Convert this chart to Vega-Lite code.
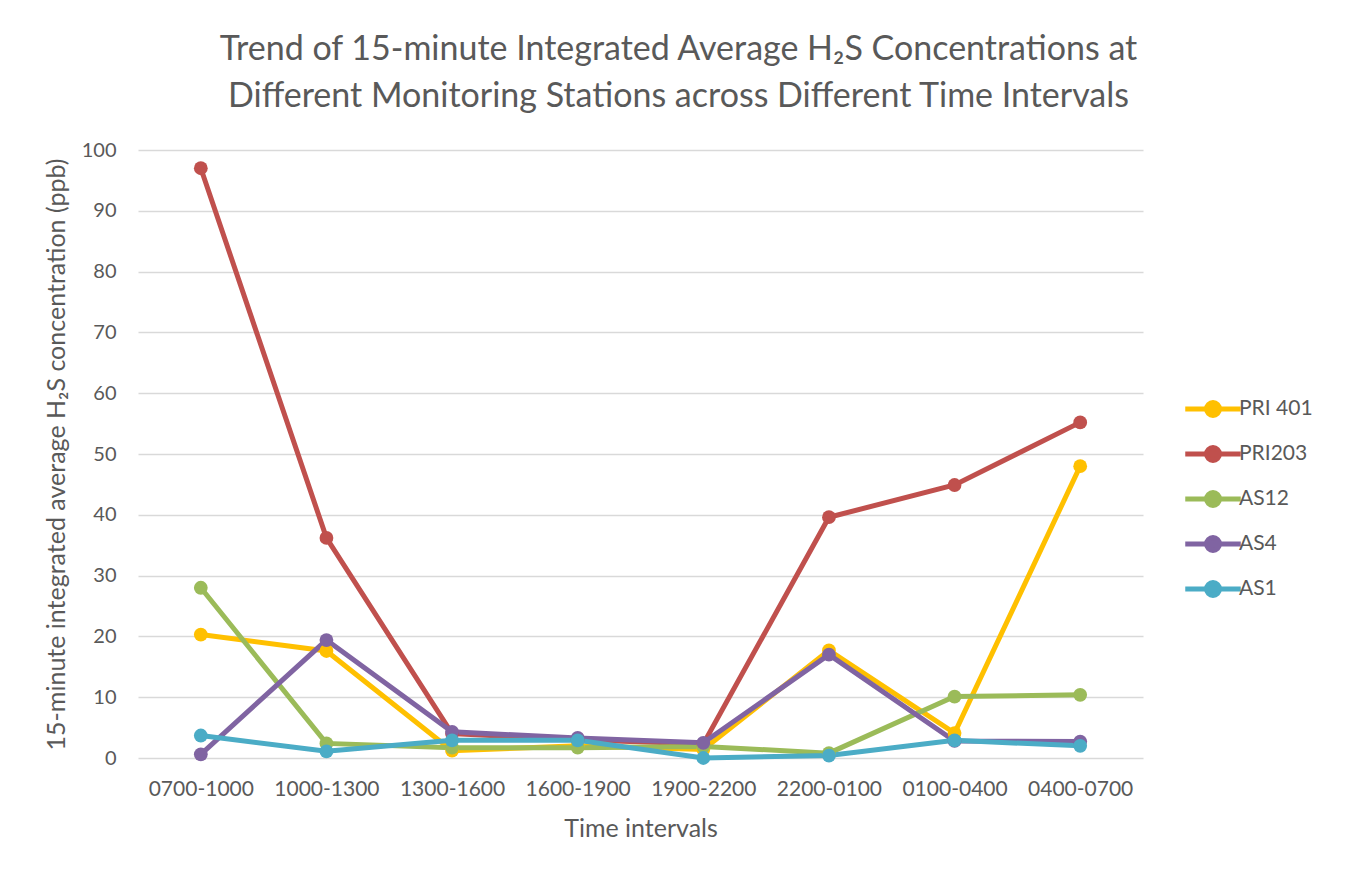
{
  "$schema": "https://vega.github.io/schema/vega-lite/v6.json",
  "width": 1005,
  "height": 608,
  "autosize": {"type": "none"},
  "padding": {"left": 138, "top": 150, "right": 211, "bottom": 114},
  "background": "white",
  "title": {
    "text": ["Trend of 15-minute Integrated Average H₂S Concentrations at", "Different Monitoring Stations across Different Time Intervals"],
    "font": "Lato",
    "fontSize": 34,
    "fontWeight": "normal",
    "color": "#595959",
    "anchor": "middle",
    "frame": "group",
    "dx": 38,
    "baseline": "alphabetic",
    "lineHeight": 47,
    "offset": -1
  },
  "config": {
    "view": {"stroke": null},
    "font": "Lato"
  },
  "data": {
    "values": [
      {"interval": "0700-1000", "station": "PRI 401", "value": 20.3},
      {"interval": "1000-1300", "station": "PRI 401", "value": 17.6},
      {"interval": "1300-1600", "station": "PRI 401", "value": 1.2},
      {"interval": "1600-1900", "station": "PRI 401", "value": 2.0},
      {"interval": "1900-2200", "station": "PRI 401", "value": 1.4},
      {"interval": "2200-0100", "station": "PRI 401", "value": 17.7},
      {"interval": "0100-0400", "station": "PRI 401", "value": 4.1},
      {"interval": "0400-0700", "station": "PRI 401", "value": 48.0},
      {"interval": "0700-1000", "station": "PRI203", "value": 97.0},
      {"interval": "1000-1300", "station": "PRI203", "value": 36.2},
      {"interval": "1300-1600", "station": "PRI203", "value": 4.0},
      {"interval": "1600-1900", "station": "PRI203", "value": 3.0},
      {"interval": "1900-2200", "station": "PRI203", "value": 2.3},
      {"interval": "2200-0100", "station": "PRI203", "value": 39.6},
      {"interval": "0100-0400", "station": "PRI203", "value": 44.9},
      {"interval": "0400-0700", "station": "PRI203", "value": 55.2},
      {"interval": "0700-1000", "station": "AS12", "value": 28.0},
      {"interval": "1000-1300", "station": "AS12", "value": 2.4},
      {"interval": "1300-1600", "station": "AS12", "value": 1.7},
      {"interval": "1600-1900", "station": "AS12", "value": 1.7},
      {"interval": "1900-2200", "station": "AS12", "value": 1.9},
      {"interval": "2200-0100", "station": "AS12", "value": 0.8},
      {"interval": "0100-0400", "station": "AS12", "value": 10.1},
      {"interval": "0400-0700", "station": "AS12", "value": 10.4},
      {"interval": "0700-1000", "station": "AS4", "value": 0.6},
      {"interval": "1000-1300", "station": "AS4", "value": 19.4},
      {"interval": "1300-1600", "station": "AS4", "value": 4.3},
      {"interval": "1600-1900", "station": "AS4", "value": 3.3},
      {"interval": "1900-2200", "station": "AS4", "value": 2.5},
      {"interval": "2200-0100", "station": "AS4", "value": 17.0},
      {"interval": "0100-0400", "station": "AS4", "value": 2.8},
      {"interval": "0400-0700", "station": "AS4", "value": 2.7},
      {"interval": "0700-1000", "station": "AS1", "value": 3.7},
      {"interval": "1000-1300", "station": "AS1", "value": 1.1},
      {"interval": "1300-1600", "station": "AS1", "value": 2.9},
      {"interval": "1600-1900", "station": "AS1", "value": 2.9},
      {"interval": "1900-2200", "station": "AS1", "value": 0.0},
      {"interval": "2200-0100", "station": "AS1", "value": 0.4},
      {"interval": "0100-0400", "station": "AS1", "value": 2.9},
      {"interval": "0400-0700", "station": "AS1", "value": 2.0}
    ]
  },
  "encoding": {
    "x": {
      "field": "interval",
      "type": "ordinal",
      "sort": ["0700-1000", "1000-1300", "1300-1600", "1600-1900", "1900-2200", "2200-0100", "0100-0400", "0400-0700"],
      "scale": {"type": "point", "padding": 0.5},
      "axis": {
        "title": "Time intervals",
        "titleFont": "Lato",
        "titleFontSize": 25,
        "titleFontWeight": "normal",
        "titleColor": "#595959",
        "titleY": 70,
        "titleBaseline": "middle",
        "labelFont": "Lato",
        "labelFontSize": 21,
        "labelColor": "#595959",
        "labelAngle": 0,
        "labelPadding": 20,
        "ticks": false,
        "domain": false,
        "grid": false
      }
    },
    "y": {
      "field": "value",
      "type": "quantitative",
      "scale": {"domain": [0, 100], "nice": false},
      "axis": {
        "title": "15-minute integrated average H₂S concentration (ppb)",
        "titleFont": "Lato",
        "titleFontSize": 25,
        "titleFontWeight": "normal",
        "titleColor": "#595959",
        "titleX": -82,
        "titleY": 304,
        "titleAlign": "center",
        "titleBaseline": "middle",
        "titleAngle": -90,
        "labelFont": "Lato",
        "labelFontSize": 20,
        "labelColor": "#595959",
        "labelPadding": 22,
        "values": [0, 10, 20, 30, 40, 50, 60, 70, 80, 90, 100],
        "ticks": false,
        "domain": false,
        "grid": true,
        "gridColor": "#d9d9d9",
        "gridWidth": 1.5
      }
    },
    "color": {
      "field": "station",
      "type": "nominal",
      "sort": ["PRI 401", "PRI203", "AS12", "AS4", "AS1"],
      "scale": {
        "domain": ["PRI 401", "PRI203", "AS12", "AS4", "AS1"],
        "range": ["#FFC000", "#C0504D", "#9BBB59", "#8064A2", "#4BACC6"]
      },
      "legend": {
        "title": null,
        "orient": "none",
        "legendX": 1054,
        "legendY": 238,
        "symbolType": "M-1.5,0H1.5M-0.35,0A0.35,0.35,0,1,1,0.35,0A0.35,0.35,0,1,1,-0.35,0Z",
        "symbolSize": 1369,
        "symbolStrokeWidth": 5,
        "symbolFillColor": null,
        "labelFont": "Lato",
        "labelFontSize": 21,
        "labelColor": "#595959",
        "labelOffset": 5,
        "rowPadding": 7
      }
    }
  },
  "mark": {
    "type": "line",
    "strokeWidth": 5,
    "point": {"filled": true, "size": 190}
  }
}
